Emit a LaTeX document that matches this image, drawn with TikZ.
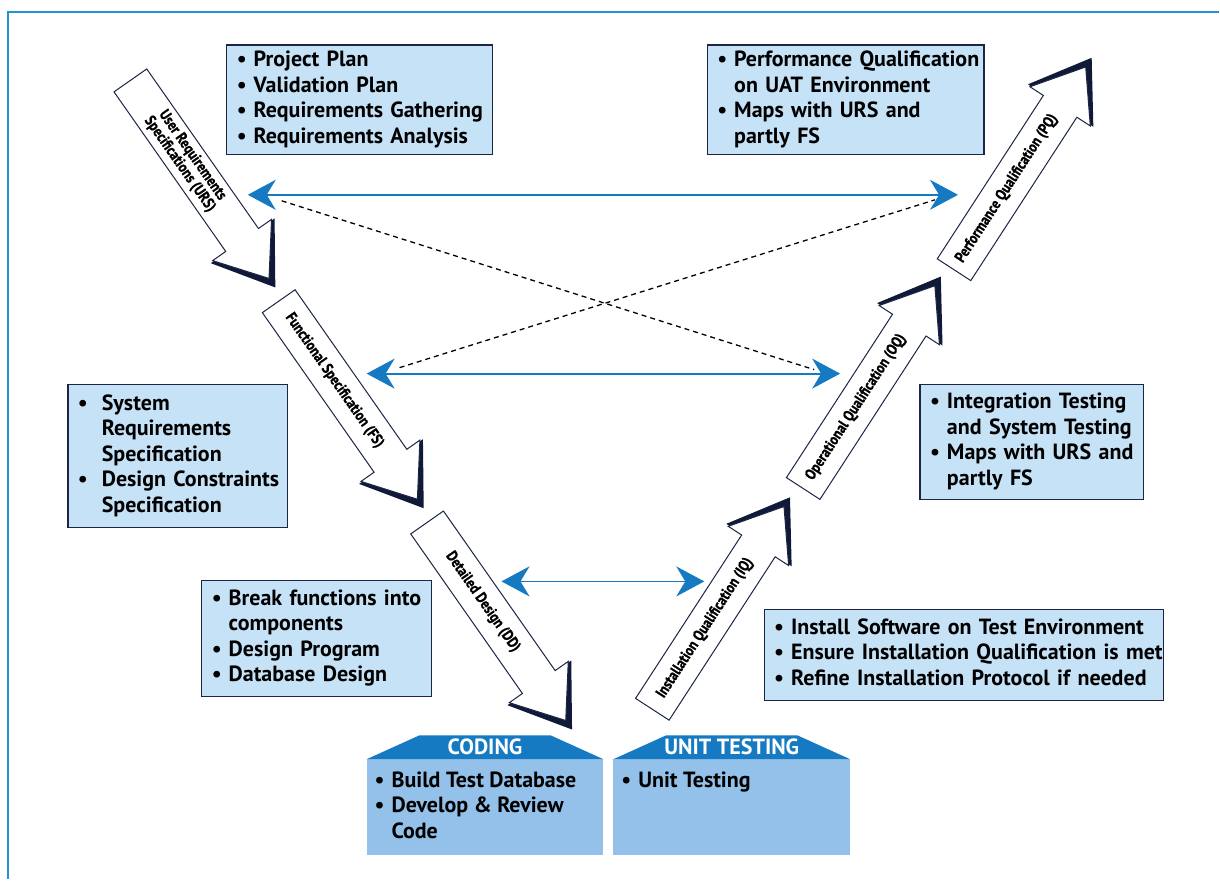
\documentclass[tikz,border=0pt]{standalone}
\usepackage{fontspec}
\setmainfont{PT Sans}
\newfontfamily\narrowsans[FakeStretch=0.85, FakeBold=1]{PT Sans}
\usepackage{xcolor}
\definecolor{vblue}{RGB}{22,122,195}
\definecolor{frameblue}{RGB}{35,145,212}
\definecolor{boxfill}{RGB}{198,226,246}
\definecolor{stagefill}{RGB}{147,193,233}
\definecolor{boxline}{RGB}{28,38,68}
\definecolor{headnavy}{RGB}{16,26,56}
\usepackage{tikz}
\usetikzlibrary{arrows.meta,positioning}

\newcommand{\bitems}[2][7pt]{\begin{tabular}{@{}l@{\hspace{#1}}l@{}}#2\end{tabular}}

\begin{document}
\begin{tikzpicture}[
    x=1pt, y=-1pt,
    font=\bfseries\fontsize{22}{25.5}\selectfont,
    task/.style={rectangle, draw=boxline, line width=1.2pt, fill=boxfill, anchor=north west, outer sep=0pt, inner xsep=10pt, inner ysep=0pt, align=left},
    stagebody/.style={rectangle, fill=stagefill, anchor=north west, outer sep=0pt, inner xsep=8pt, inner ysep=10pt},
    stagetitle/.style={text=white, font=\bfseries\fontsize{22}{24}\selectfont, inner sep=0pt},
    phase/.style={draw=boxline, line width=1pt, fill=white, line join=miter},
    phaselabel/.style={transform shape, align=center, inner sep=0pt, font=\narrowsans\bfseries\fontsize{15.5}{15.5}\selectfont},
    link/.style={{Stealth[length=28pt,width=30pt,inset=9pt]}-{Stealth[length=28pt,width=30pt,inset=9pt]}, vblue, line width=1.8pt},
    trace/.style={black, line width=1.3pt, dash pattern=on 5pt off 4pt}
]

\fill[white] (0,0) rectangle (1220,880);
\draw[frameblue, line width=2.5pt] (8,880) -- (8,12) -- (1220,12);

% phase arrows down the V and back up
\foreach \px/\py/\ang/\nm/\lbl in {
    130.5/80.5/-55/urs/{User Requirements\\Specifications (URS)},
    279/301.5/-55/fs/{Functional Specification (FS)},
    427.5/523/-55/dd/{Detailed Design (DD)},
    653/710/57/iq/{Installation Qualification (IQ)},
    804/489/57/oq/{Operational Qualification (OQ)},
    955/270/57/pq/{Performance Qualification (PQ)}}
{
  \begin{scope}[shift={(\px,\py)}, rotate=\ang]
    \fill[headnavy] (196,-39) -- (253,0) -- (196,39) -- cycle;
    \draw[phase] (0,-20) -- (195,-20) -- (195,-36) -- (242,0) -- (195,36) -- (195,20) -- (0,20) -- cycle;
    \node[phaselabel] (\nm) at (97,0) {\lbl};
  \end{scope}
}

\node[task, text width=246pt, minimum height=110pt] (plan) at (227,45)
  {\bitems{\textbullet & Project Plan\\ \textbullet & Validation Plan\\ \textbullet & Requirements Gathering\\ \textbullet & Requirements Analysis}};
\node[task, text width=257pt, minimum height=110pt] (pqtasks) at (708,45)
  {\bitems{\textbullet & Performance Qualification\\ & on UAT Environment\\ \textbullet & Maps with URS and\\ & partly FS}};
\node[task, text width=200pt, minimum height=143pt] (fstasks) at (68,385)
  {\bitems[14pt]{\textbullet & System\\ & Requirements\\ & Specification\\ \textbullet & Design Constraints\\ & Specification}};
\node[task, text width=204pt, minimum height=115pt] (oqtasks) at (921,385)
  {\bitems{\textbullet & Integration Testing\\ & and System Testing\\ \textbullet & Maps with URS and\\ & partly FS}};
\node[task, text width=210pt, minimum height=116pt] (ddtasks) at (202,581)
  {\bitems{\textbullet & Break functions into\\ & components\\ \textbullet & Design Program\\ \textbullet & Database Design}};
\node[task, text width=380pt, minimum height=91pt] (iqtasks) at (765,610)
  {\bitems{\textbullet & Install Software on Test Environment\\ \textbullet & Ensure Installation Qualification is met\\ \textbullet & Refine Installation Protocol if needed}};

% coding and unit testing at the bottom of the V
\node[stagebody] (coding) at (367,760)
  {\begin{minipage}[t][76pt][t]{221pt}\bitems{\textbullet & Build Test Database\\ \textbullet & Develop \& Review\\ & Code}\end{minipage}};
\node[stagebody, right=10pt of coding] (unit)
  {\begin{minipage}[t][76pt][t]{221pt}\bitems{\textbullet & Unit Testing}\end{minipage}};
\fill[vblue] (coding.north west) -- ++(53,-24) -- ([shift={(-53,-24)}]coding.north east) -- (coding.north east) -- cycle;
\fill[vblue] (unit.north west) -- ++(53,-24) -- ([shift={(-53,-24)}]unit.north east) -- (unit.north east) -- cycle;
\node[stagetitle] (codingT) at ([yshift=12pt]coding.north) {CODING};
\node[stagetitle] (unitT) at ([yshift=12pt]unit.north) {UNIT TESTING};

\coordinate (ursLink) at (248,195);
\coordinate (pqLink) at (959,195);
\coordinate (fsLink) at (367,374);
\coordinate (oqLink) at (841,374);
\coordinate (ddLink) at (502,582);
\coordinate (iqLink) at (705,582);
\coordinate (ursTrace) at (282,201);
\coordinate (oqTrace) at (815,370);
\coordinate (fsTrace) at (400,368);
\coordinate (pqTrace) at (936,200);

\draw[trace] (ursTrace) -- (oqTrace);
\draw[trace] (fsTrace) -- (pqTrace);
\draw[link] (ursLink) -- (pqLink);
\draw[link] (fsLink) -- (oqLink);
\draw[link] (ddLink) -- (iqLink);

\end{tikzpicture}
\end{document}
